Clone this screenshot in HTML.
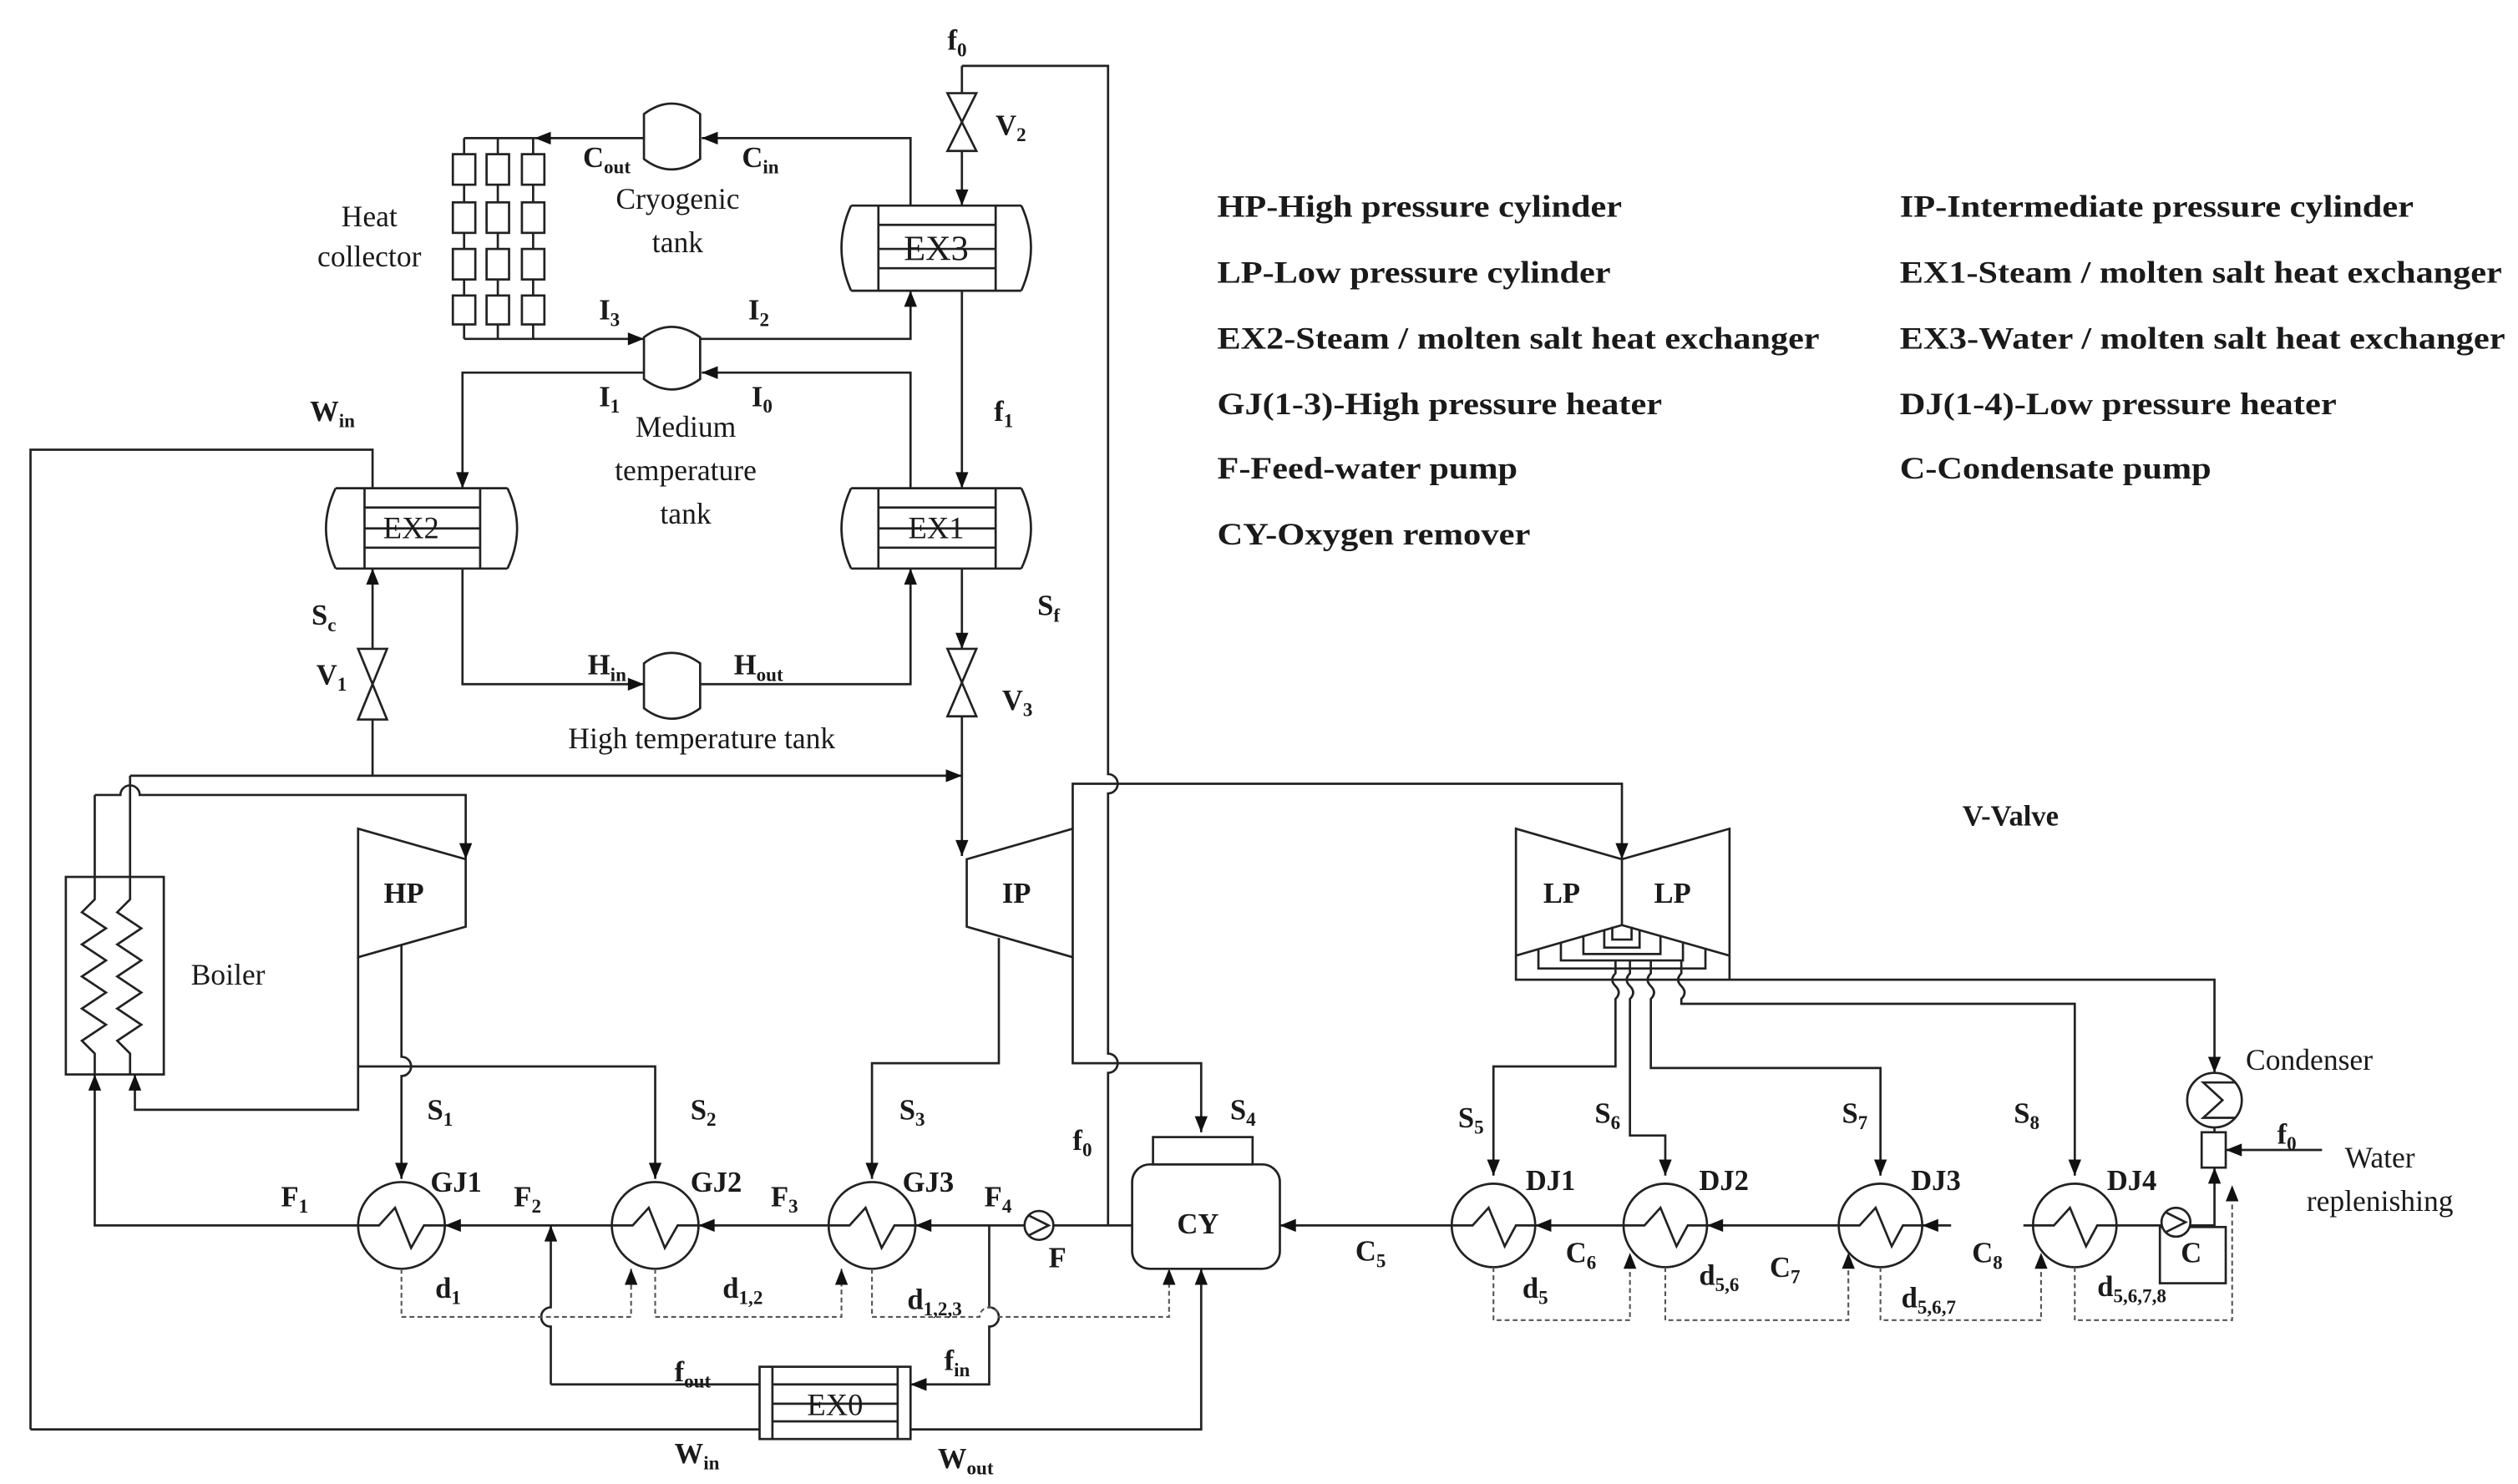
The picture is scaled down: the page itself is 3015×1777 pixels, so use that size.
<!DOCTYPE html>
<html><head><meta charset="utf-8"><style>
html,body{margin:0;padding:0;background:#fff}
svg{display:block}
text{font-family:"Liberation Serif",serif;fill:#1a1a1a}
.b{font-weight:bold;font-size:18px}
.n{font-size:18.5px;fill:#333}
.lg{font-weight:bold;font-size:19px}
.s{font-size:12px}
</style></head><body>
<svg width="3015" height="1777" viewBox="0 0 1568 924" preserveAspectRatio="none" xmlns="http://www.w3.org/2000/svg">
<defs>
<marker id="a" viewBox="0 0 10 8" refX="10" refY="4" markerWidth="11" markerHeight="8" markerUnits="userSpaceOnUse" orient="auto"><path d="M0,0 L10,4 L0,8 Z" fill="#111"/></marker>
</defs>
<g fill="none" stroke="#222" stroke-width="1.4">
<path d="M599,41 H690 V482 a6,6 0 0 1 0,12 V656 a6,6 0 0 1 0,12 V763"/>
<path d="M599,41 V58"/>
<path d="M590,58 L608,58 L590,94 L608,94 Z"/>
<path d="M599,94 V128" marker-end="url(#a)"/>
<path d="M567,128 V86 H437" marker-end="url(#a)"/>
<path d="M401,86 H333" marker-end="url(#a)"/>
<path d="M333,86 H289"/>
<path d="M289,86 V211 M310,86 V211 M332,86 V211"/>
<g fill="#fff">
<rect x="282" y="96" width="14" height="19"/><rect x="303" y="96" width="14" height="19"/><rect x="325" y="96" width="14" height="19"/>
<rect x="282" y="126" width="14" height="19"/><rect x="303" y="126" width="14" height="19"/><rect x="325" y="126" width="14" height="19"/>
<rect x="282" y="155" width="14" height="19"/><rect x="303" y="155" width="14" height="19"/><rect x="325" y="155" width="14" height="19"/>
<rect x="282" y="184" width="14" height="18"/><rect x="303" y="184" width="14" height="18"/><rect x="325" y="184" width="14" height="18"/>
</g>
<path d="M289,211 H401" marker-end="url(#a)"/>
<path d="M436,211 H567 V181" marker-end="url(#a)"/>
<path d="M401,232 H288 V304" marker-end="url(#a)"/>
<path d="M567,304 V232 H437" marker-end="url(#a)"/>
<path d="M599,181 V304" marker-end="url(#a)"/>
<path d="M401,71 Q418,58 436,71 V99 Q418,112 401,99 Z" fill="#fff"/>
<path d="M401,210 Q418,197 436,210 V236 Q418,249 401,236 Z" fill="#fff"/>
<path d="M401,413 Q418,400 436,413 V441 Q418,454 401,441 Z" fill="#fff"/>
<path d="M530,128 H636 M530,181 H636 M530,128 Q518,154 530,181 M636,128 Q648,154 636,181 M547,128 V181 M620,128 V181 M547,140 H620 M547,155 H620 M547,167 H620"/>
<path d="M209,304 H316 M209,354 H316 M209,304 Q197,329 209,354 M316,304 Q328,329 316,354 M227,304 V354 M299,304 V354 M227,316 H299 M227,329 H299 M227,341 H299"/>
<path d="M530,304 H636 M530,354 H636 M530,304 Q518,329 530,354 M636,304 Q648,329 636,354 M547,304 V354 M620,304 V354 M547,316 H620 M547,329 H620 M547,341 H620"/>
<path d="M19,890 V280 H232 V304"/>
<path d="M599,354 V404" marker-end="url(#a)"/>
<path d="M590,404 L608,404 L590,446 L608,446 Z"/>
<path d="M599,446 V533" marker-end="url(#a)"/>
<path d="M232,483 V448"/>
<path d="M223,404 L241,404 L223,448 L241,448 Z"/>
<path d="M232,404 V354" marker-end="url(#a)"/>
<path d="M288,354 V426 H401" marker-end="url(#a)"/>
<path d="M436,426 H567 V354" marker-end="url(#a)"/>
<rect x="41" y="546" width="61" height="123"/>
<path d="M59,495 V560 L51,568 L66,578 L51,588 L66,598 L51,608 L66,618 L51,628 L66,638 L51,648 L59,656 V669"/>
<path d="M81,483 V560 L73,568 L88,578 L73,588 L88,598 L73,608 L88,618 L73,628 L88,638 L73,648 L81,656 V669"/>
<path d="M81,483 H599" marker-end="url(#a)"/>
<path d="M59,495 H75 a6,6 0 0 1 12,0 H290 V535" marker-end="url(#a)"/>
<path d="M223,516 L290,535 L290,577 L223,596 Z"/>
<path d="M602,535 L668,516 L668,596 L602,577 Z"/>
<path d="M250,588 V658 a6,6 0 0 1 0,12 V734" marker-end="url(#a)"/>
<path d="M223,596 V691 H84 V669" marker-end="url(#a)"/>
<path d="M223,664 H408 V734" marker-end="url(#a)"/>
<path d="M622,584 V662 H543 V734" marker-end="url(#a)"/>
<path d="M668,516 V488 H1010 V535" marker-end="url(#a)"/>
<path d="M668,596 V662 H748 V705" marker-end="url(#a)"/>
<path d="M705,763 H656"/>
<circle cx="647" cy="763" r="9" fill="#fff"/>
<path d="M641,757 L653,763 L641,769"/>
<path d="M638,763 H570" marker-end="url(#a)"/>
<path d="M516,763 H435" marker-end="url(#a)"/>
<path d="M381,763 H277" marker-end="url(#a)"/>
<path d="M223,763 H59 V669" marker-end="url(#a)"/>
<circle cx="250" cy="763" r="27"/><path d="M223,763 H236 L246,752 L256,777 L264,763 H277"/>
<circle cx="408" cy="763" r="27"/><path d="M381,763 H394 L404,752 L414,777 L422,763 H435"/>
<circle cx="543" cy="763" r="27"/><path d="M516,763 H529 L539,752 L549,777 L557,763 H570"/>
<path d="M343,862 V826 a6,6 0 0 1 0,-12 V763" marker-end="url(#a)"/>
<path d="M473,862 H343"/>
<path d="M616,763 V814 a6,6 0 0 1 0,12 V862 H567" marker-end="url(#a)"/>
<path d="M19,890 H473"/>
<path d="M567,890 H748 V790" marker-end="url(#a)"/>
<rect x="473" y="851" width="94" height="45"/>
<path d="M481,851 V896 M559,851 V896 M481,862 H559 M481,874 H559 M481,885 H559"/>
<rect x="705" y="725" width="92" height="65" rx="11"/>
<rect x="718" y="708" width="62" height="17"/>
<path d="M904,763 H797" marker-end="url(#a)"/>
<path d="M944,516 L1010,535 L1077,516 V610 H944 Z"/>
<path d="M1010,535 V576 M944,595 L1010,576 L1077,595"/>
<path d="M958,591 V603 H1062 V591 M972,587 V598 H1048 V587 M986,583 V594 H1034 V583 M999,579 V590 H1021 V579 M1004,577 V585 H1016 V577"/>
<path d="M1077,610 H1379 V668" marker-end="url(#a)"/>
<path d="M1006,598 V606 q-4,4 0,8 q4,4 0,8 V664 H930 V732" marker-end="url(#a)"/>
<path d="M1015,598 V606 q-4,4 0,8 q4,4 0,8 V707 H1037 V732" marker-end="url(#a)"/>
<path d="M1028,598 V606 q-4,4 0,8 q4,4 0,8 V665 H1171 V732" marker-end="url(#a)"/>
<path d="M1047,598 V606 q-4,4 0,8 q4,4 0,8 V625 H1292 V732" marker-end="url(#a)"/>
<circle cx="930" cy="763" r="26"/><path d="M904,763 H917 L927,752 L937,776 L944,763 H956"/>
<circle cx="1037" cy="763" r="26"/><path d="M1011,763 H1024 L1034,752 L1044,776 L1051,763 H1063"/>
<circle cx="1171" cy="763" r="26"/><path d="M1145,763 H1158 L1168,752 L1178,776 L1185,763 H1197"/>
<circle cx="1292" cy="763" r="26"/><path d="M1266,763 H1279 L1289,752 L1299,776 L1306,763 H1318"/>
<path d="M1011,763 H956" marker-end="url(#a)"/>
<path d="M1145,763 H1063" marker-end="url(#a)"/>
<path d="M1215,763 H1197" marker-end="url(#a)"/>
<path d="M1260,763 H1266 M1318,763 H1346"/>
<rect x="1345" y="764" width="41" height="35"/>
<circle cx="1355" cy="761" r="9" fill="#fff"/>
<path d="M1349,755 L1361,761 L1349,767"/>
<path d="M1364,763 H1379 V727" marker-end="url(#a)"/>
<rect x="1371" y="705" width="15" height="22"/>
<path d="M1379,705 V702"/>
<circle cx="1379" cy="685" r="17"/>
<path d="M1392,674 H1372 L1384,685 L1372,696 H1392"/>
<path d="M1446,716 H1386" marker-end="url(#a)"/>
</g>
<g fill="none" stroke="#555" stroke-width="1.1" stroke-dasharray="3,2">
<path d="M250,790 V820 H393 V790" marker-end="url(#a)"/>
<path d="M408,790 V820 H524 V790" marker-end="url(#a)"/>
<path d="M543,790 V820 H610 a6,6 0 0 1 12,0 H728 V790" marker-end="url(#a)"/>
<path d="M930,789 V822 H1015 V780" marker-end="url(#a)"/>
<path d="M1037,789 V822 H1151 V780" marker-end="url(#a)"/>
<path d="M1171,789 V822 H1271 V780" marker-end="url(#a)"/>
<path d="M1292,789 V822 H1390 V738" marker-end="url(#a)"/>
</g>
<g class="b">
<text x="590" y="31">f<tspan class="s" dy="4">0</tspan></text>
<text x="620" y="84">V<tspan class="s" dy="4">2</tspan></text>
<text x="363" y="104">C<tspan class="s" dy="4">out</tspan></text>
<text x="462" y="104">C<tspan class="s" dy="4">in</tspan></text>
<text x="373" y="199">I<tspan class="s" dy="4">3</tspan></text>
<text x="466" y="199">I<tspan class="s" dy="4">2</tspan></text>
<text x="373" y="253">I<tspan class="s" dy="4">1</tspan></text>
<text x="468" y="253">I<tspan class="s" dy="4">0</tspan></text>
<text x="193" y="262">W<tspan class="s" dy="4">in</tspan></text>
<text x="619" y="262">f<tspan class="s" dy="4">1</tspan></text>
<text x="194" y="389">S<tspan class="s" dy="4">c</tspan></text>
<text x="197" y="426">V<tspan class="s" dy="4">1</tspan></text>
<text x="366" y="420">H<tspan class="s" dy="4">in</tspan></text>
<text x="457" y="420">H<tspan class="s" dy="4">out</tspan></text>
<text x="646" y="383">S<tspan class="s" dy="4">f</tspan></text>
<text x="624" y="442">V<tspan class="s" dy="4">3</tspan></text>
<text x="239" y="562">HP</text>
<text x="624" y="562">IP</text>
<text x="961" y="562">LP</text>
<text x="1030" y="562">LP</text>
<text x="1222" y="514">V-Valve</text>
<text x="266" y="697">S<tspan class="s" dy="4">1</tspan></text>
<text x="430" y="697">S<tspan class="s" dy="4">2</tspan></text>
<text x="560" y="697">S<tspan class="s" dy="4">3</tspan></text>
<text x="766" y="697">S<tspan class="s" dy="4">4</tspan></text>
<text x="668" y="716">f<tspan class="s" dy="4">0</tspan></text>
<text x="268" y="742">GJ1</text>
<text x="430" y="742">GJ2</text>
<text x="562" y="742">GJ3</text>
<text x="175" y="751">F<tspan class="s" dy="4">1</tspan></text>
<text x="320" y="751">F<tspan class="s" dy="4">2</tspan></text>
<text x="480" y="751">F<tspan class="s" dy="4">3</tspan></text>
<text x="613" y="751">F<tspan class="s" dy="4">4</tspan></text>
<text x="653" y="789">F</text>
<text x="733" y="768">CY</text>
<text x="271" y="808">d<tspan class="s" dy="4">1</tspan></text>
<text x="450" y="808">d<tspan class="s" dy="4">1,2</tspan></text>
<text x="565" y="815">d<tspan class="s" dy="4">1,2,3</tspan></text>
<text x="420" y="860">f<tspan class="s" dy="4">out</tspan></text>
<text x="588" y="853">f<tspan class="s" dy="4">in</tspan></text>
<text x="420" y="911">W<tspan class="s" dy="4">in</tspan></text>
<text x="584" y="914">W<tspan class="s" dy="4">out</tspan></text>
<text x="844" y="785">C<tspan class="s" dy="4">5</tspan></text>
<text x="908" y="702">S<tspan class="s" dy="4">5</tspan></text>
<text x="993" y="699">S<tspan class="s" dy="4">6</tspan></text>
<text x="1147" y="699">S<tspan class="s" dy="4">7</tspan></text>
<text x="1254" y="699">S<tspan class="s" dy="4">8</tspan></text>
<text x="950" y="741">DJ1</text>
<text x="1058" y="741">DJ2</text>
<text x="1190" y="741">DJ3</text>
<text x="1312" y="741">DJ4</text>
<text x="975" y="786">C<tspan class="s" dy="4">6</tspan></text>
<text x="1102" y="795">C<tspan class="s" dy="4">7</tspan></text>
<text x="1228" y="786">C<tspan class="s" dy="4">8</tspan></text>
<text x="948" y="808">d<tspan class="s" dy="4">5</tspan></text>
<text x="1058" y="800">d<tspan class="s" dy="4">5,6</tspan></text>
<text x="1184" y="814">d<tspan class="s" dy="4">5,6,7</tspan></text>
<text x="1306" y="807">d<tspan class="s" dy="4">5,6,7,8</tspan></text>
<text x="1358" y="786">C</text>
<text x="1418" y="712">f<tspan class="s" dy="4">0</tspan></text>
</g>
<g class="n" text-anchor="middle">
<text x="422" y="130">Cryogenic</text>
<text x="422" y="157">tank</text>
<text x="230" y="141">Heat</text>
<text x="230" y="166">collector</text>
<text x="427" y="272">Medium</text>
<text x="427" y="299">temperature</text>
<text x="427" y="326">tank</text>
<text x="437" y="466">High temperature tank</text>
<text x="583" y="162" font-size="22">EX3</text>
<text x="256" y="335" font-size="19">EX2</text>
<text x="583" y="335" font-size="19">EX1</text>
<text x="520" y="881" font-size="19">EX0</text>
<text x="142" y="613">Boiler</text>
<text x="1438" y="666">Condenser</text>
<text x="1482" y="727">Water</text>
<text x="1482" y="754">replenishing</text>
</g>
<g class="lg">
<text x="758" y="135" textLength="252" lengthAdjust="spacingAndGlyphs">HP-High pressure cylinder</text>
<text x="758" y="176" textLength="245" lengthAdjust="spacingAndGlyphs">LP-Low pressure cylinder</text>
<text x="758" y="217" textLength="375" lengthAdjust="spacingAndGlyphs">EX2-Steam / molten salt heat exchanger</text>
<text x="758" y="258" textLength="277" lengthAdjust="spacingAndGlyphs">GJ(1-3)-High pressure heater</text>
<text x="758" y="298" textLength="187" lengthAdjust="spacingAndGlyphs">F-Feed-water pump</text>
<text x="758" y="339" textLength="195" lengthAdjust="spacingAndGlyphs">CY-Oxygen remover</text>
<text x="1183" y="135" textLength="320" lengthAdjust="spacingAndGlyphs">IP-Intermediate pressure cylinder</text>
<text x="1183" y="176" textLength="375" lengthAdjust="spacingAndGlyphs">EX1-Steam / molten salt heat exchanger</text>
<text x="1183" y="217" textLength="377" lengthAdjust="spacingAndGlyphs">EX3-Water / molten salt heat exchanger</text>
<text x="1183" y="258" textLength="272" lengthAdjust="spacingAndGlyphs">DJ(1-4)-Low pressure heater</text>
<text x="1183" y="298" textLength="194" lengthAdjust="spacingAndGlyphs">C-Condensate pump</text>
</g>
</svg>
</body></html>
